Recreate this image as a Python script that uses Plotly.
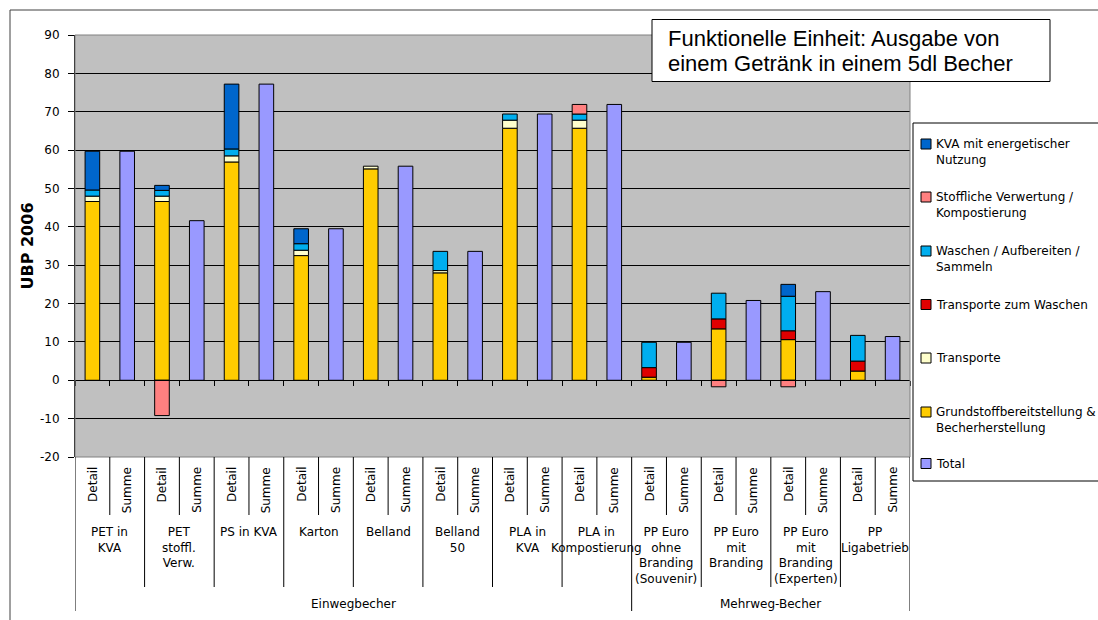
import plotly.graph_objects as go

# ---- data -------------------------------------------------------------
group_labels = [
    "PET in<br>KVA", "PET<br>stoffl.<br>Verw.", "PS in KVA", "Karton", "Belland",
    "Belland<br>50", "PLA in<br>KVA", "PLA in<br>Kompostierung",
    "PP Euro<br>ohne<br>Branding<br>(Souvenir)", "PP Euro<br>mit<br>Branding",
    "PP Euro<br>mit<br>Branding<br>(Experten)", "PP<br>Ligabetrieb",
]
kinds = ["Detail", "Summe"]
super_groups = ["Einwegbecher", "Mehrweg-Becher"]
super_group_sizes = [8, 4]

# stacked components of the "Detail" bars (UBP 2006)
grundstoff = [46.6, 46.6, 56.9, 32.5, 55.1, 28.0, 65.7, 65.7, 0.8, 13.4, 10.6, 2.4]
transporte = [1.4, 1.4, 1.6, 1.4, 0.7, 0.6, 2.1, 2.1, None, None, None, None]
transporte_waschen = [None, None, None, None, None, None, None, None, 2.5, 2.6, 2.3, 2.6]
waschen = [1.6, 1.5, 1.8, 1.7, None, 5.0, 1.6, 1.6, 6.6, 6.7, 9.0, 6.7]
stofflich = [None, -9.2, None, None, None, None, None, 2.5, None, -1.7, -1.7, None]
kva = [10.1, 1.3, 16.9, 3.9, None, None, None, None, None, None, 3.1, None]
# "Summe" bars
total = [59.7, 41.6, 77.2, 39.5, 55.8, 33.6, 69.4, 71.9, 9.9, 20.8, 23.1, 11.4]

# value axis ticks
y_tick_values = [-20, -10, 0, 10, 20, 30, 40, 50, 60, 70, 80, 90]
y_tick_labels = ["-20", "-10", "0", "10", "20", "30", "40", "50", "60", "70", "80", "90"]

series_names = [
    "Grundstoffbereitstellung &<br>Becherherstellung",
    "Transporte",
    "Transporte zum Waschen",
    "Waschen / Aufbereiten /<br>Sammeln",
    "Stoffliche Verwertung /<br>Kompostierung",
    "KVA mit energetischer<br>Nutzung",
]
series_values = [grundstoff, transporte, transporte_waschen, waschen, stofflich, kva]
series_colors = ["#FFCC00", "#FFFFCC", "#E00000", "#00AEEF", "#FF8080", "#0066CC"]
total_name = "Total"
total_color = "#9999FF"

# ---- geometry helpers (pixel -> paper) ---------------------------------
W, H = 1098, 620
PL, PR, PT, PB = 75, 910, 35, 457


def fx(px):
    return (px - PL) / (PR - PL)


def fy(py):
    return (PB - py) / (PB - PT)


FONT = "DejaVu Sans, Verdana, sans-serif"

plain_groups = [g.replace("<br>", " ") for g in group_labels]
cats = [f"{g} {k}" for g in plain_groups for k in kinds]
detail_cats = [f"{g} {kinds[0]}" for g in plain_groups]
summe_cats = [f"{g} {kinds[1]}" for g in plain_groups]

fig = go.Figure()
for name, vals, col in zip(series_names, series_values, series_colors):
    fig.add_trace(go.Bar(
        x=detail_cats, y=vals, name=name.replace("<br>", " "),
        marker=dict(color=col, line=dict(color="black", width=1)),
    ))
fig.add_trace(go.Bar(
    x=summe_cats, y=total, name=total_name,
    marker=dict(color=total_color, line=dict(color="black", width=1)),
))

shapes = []
annotations = []

# outer chart frame
shapes.append(dict(type="rect", xref="paper", yref="paper",
                   x0=fx(10), x1=fx(1120), y0=fy(640), y1=fy(10),
                   line=dict(color="#404040", width=1), layer="below"))
# plot area border
shapes.append(dict(type="rect", xref="paper", yref="paper",
                   x0=0, x1=1, y0=0, y1=1,
                   line=dict(color="#808080", width=1), layer="above"))

# category table below the plot
n_cat = len(cats)
for i, c in enumerate(cats):
    annotations.append(dict(x=i, y=fy(465), xref="x", yref="paper",
                            text=kinds[i % 2], textangle=-90, showarrow=False,
                            xanchor="center", yanchor="top",
                            font=dict(family=FONT, size=12, color="black")))
for g in range(len(group_labels)):
    shapes.append(dict(type="line", xref="x", yref="paper",
                       x0=2 * g + 0.5, x1=2 * g + 0.5, y0=fy(PB), y1=fy(515),
                       line=dict(color="black", width=1)))
    annotations.append(dict(x=2 * g + 0.5, y=fy(523), xref="x", yref="paper",
                            text=group_labels[g], showarrow=False,
                            xanchor="center", yanchor="top", align="center",
                            font=dict(family=FONT, size=12, color="black")))

super_bounds = [0]
for s in super_group_sizes:
    super_bounds.append(super_bounds[-1] + s)
for g in range(len(group_labels) + 1):
    bottom = 611 if g in super_bounds else 587
    shapes.append(dict(type="line", xref="x", yref="paper",
                       x0=2 * g - 0.5, x1=2 * g - 0.5, y0=fy(PB), y1=fy(bottom),
                       line=dict(color="black", width=1)))
for k, label in enumerate(super_groups):
    a, b = super_bounds[k], super_bounds[k + 1]
    annotations.append(dict(x=(2 * a - 0.5 + 2 * b - 0.5) / 2, y=fy(604),
                            xref="x", yref="paper", text=label, showarrow=False,
                            xanchor="center", yanchor="middle",
                            font=dict(family=FONT, size=12, color="black")))

# title box
shapes.append(dict(type="rect", xref="paper", yref="paper",
                   x0=fx(652), x1=fx(1050), y0=fy(81.5), y1=fy(19.5),
                   fillcolor="white", line=dict(color="black", width=1),
                   layer="above"))
for line, yc in zip(["Funktionelle Einheit: Ausgabe von",
                     "einem Getränk in einem 5dl Becher"], [38, 63]):
    annotations.append(dict(x=fx(666), y=fy(yc), xref="paper", yref="paper",
                            text=line, showarrow=False, xanchor="left",
                            yanchor="middle",
                            font=dict(family="Arial, Liberation Sans, sans-serif",
                                      size=22, color="black")))

# legend box
shapes.append(dict(type="rect", xref="paper", yref="paper",
                   x0=fx(913), x1=fx(1120), y0=fy(481), y1=fy(123),
                   fillcolor="white", line=dict(color="black", width=1),
                   layer="above"))
legend_items = list(zip(series_names, series_colors))[::-1] + [(total_name, total_color)]
legend_y = [144, 197, 251, 304.5, 358, 412, 463.5]
LINE_H = 15.6
for (name, col), yc in zip(legend_items, legend_y):
    shapes.append(dict(type="rect", xref="paper", yref="paper",
                       x0=fx(921), x1=fx(931), y0=fy(yc + 5), y1=fy(yc - 5),
                       fillcolor=col, line=dict(color="black", width=1),
                       layer="above"))
    n_lines = name.count("<br>") + 1
    annotations.append(dict(x=fx(934), y=fy(yc + (n_lines - 1) * LINE_H / 2),
                            xref="paper", yref="paper", text=name,
                            showarrow=False, xanchor="left", yanchor="middle",
                            align="left",
                            font=dict(family=FONT, size=12, color="black")))

fig.update_layout(
    width=W, height=H, autosize=False,
    margin=dict(l=PL, r=W - PR, t=PT, b=H - PB, autoexpand=False),
    paper_bgcolor="white", plot_bgcolor="#C0C0C0",
    barmode="relative", bargap=0.58,
    showlegend=False,
    font=dict(family=FONT, size=12, color="black"),
    shapes=shapes, annotations=annotations,
)
fig.update_xaxes(
    type="category", categoryorder="array", categoryarray=cats,
    range=[-0.5, n_cat - 0.5],
    anchor="free", position=fy(PT + (PB - PT) * 90 / 110),
    showline=True, linecolor="black", linewidth=1,
    ticks="outside", tickson="boundaries", ticklen=5, tickcolor="black",
    showticklabels=False, showgrid=False, zeroline=False,
)
fig.update_yaxes(
    range=[-20, 90], tickmode="array",
    tickvals=y_tick_values, ticktext=y_tick_labels,
    showline=True, linecolor="black", linewidth=1,
    ticks="outside", ticklen=6, tickcolor="black", ticklabelstandoff=6,
    showgrid=True, gridcolor="black", gridwidth=1, zeroline=False,
    tickfont=dict(family=FONT, size=12, color="black"),
    title=dict(text="<b>UBP 2006</b>", standoff=2,
               font=dict(family=FONT, size=16, color="black")),
)

fig.write_html("out.html")
